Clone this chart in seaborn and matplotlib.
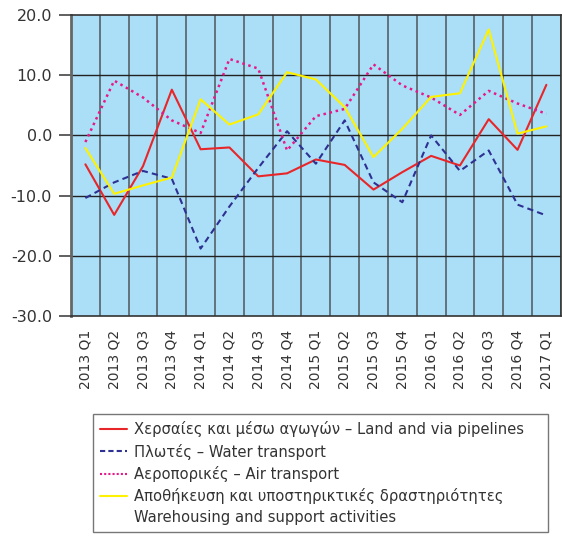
import pandas as pd
import numpy as np
import matplotlib.pyplot as plt
import seaborn as sns
from matplotlib.lines import Line2D

# quarters on the x axis
quarters = ['2013 Q1', '2013 Q2', '2013 Q3', '2013 Q4',
            '2014 Q1', '2014 Q2', '2014 Q3', '2014 Q4',
            '2015 Q1', '2015 Q2', '2015 Q3', '2015 Q4',
            '2016 Q1', '2016 Q2', '2016 Q3', '2016 Q4',
            '2017 Q1']

# values
land = [-4.8, -13.2, -5.1, 7.6, -2.3, -2.0, -6.8, -6.3,
        -4.0, -4.9, -9.0, -6.1, -3.4, -5.0, 2.7, -2.4, 8.4]
water = [-10.4, -7.8, -5.9, -7.2, -18.8, -11.8, -5.4, 0.7,
         -4.7, 2.5, -7.8, -11.1, 0.0, -5.9, -2.5, -11.5, -13.3]
air = [-1.1, 9.1, 6.3, 2.5, 0.4, 12.7, 11.1, -2.5,
       3.2, 4.4, 11.8, 8.3, 6.3, 3.4, 7.4, 5.3, 3.6]
warehousing = [-2.1, -9.7, -8.3, -7.0, 6.0, 1.8, 3.5, 10.5,
               9.3, 4.7, -3.6, 1.1, 6.4, 7.0, 17.6, 0.3, 1.5]

labels = ['Χερσαίες και μέσω αγωγών – Land and via pipelines',
          'Πλωτές – Water transport',
          'Αεροπορικές – Air transport',
          'Αποθήκευση και υποστηρικτικές δραστηριότητες']
extra_line = 'Warehousing and support activities'

df = pd.DataFrame({'quarter': quarters * 4,
                   'value': land + water + air + warehousing,
                   'series': np.repeat(labels, len(quarters))})

sns.set_style('white')
plt.rcParams['font.family'] = ['DejaVu Sans']
plt.rcParams['axes.unicode_minus'] = False
txt = '#333333'

fig = plt.figure(figsize=(5.62, 5.38), dpi=100)
ax = fig.add_axes([0.1263, 0.4126, 0.8715, 0.5595])
ax.set_facecolor('#abdff7')

colors = ['#e8262a', '#2e3192', '#e6198a', '#fff200']
dashes = ['', (3, 2), (1, 1.5), '']
widths = [1.5, 1.5, 1.8, 1.5]
for lab, c, d, w in zip(labels, colors, dashes, widths):
    sub = df[df['series'] == lab]
    sns.lineplot(data=sub, x='quarter', y='value', color=c, lw=w, ax=ax,
                 sort=False, legend=False)
    if d != '':
        ax.lines[-1].set_dashes(d)

n = len(quarters)
ax.set_xlim(-0.5, n - 0.5)
ax.set_ylim(-30, 20)
ax.set_yticks(np.arange(-30, 21, 10))
ax.set_yticklabels([f'{v:.1f}' for v in np.arange(-30, 21, 10)],
                   fontsize=11.5, color=txt)
ax.set_xticks(range(n))
ax.set_xticklabels(quarters, rotation=90, fontsize=10, color=txt)
ax.tick_params(axis='x', which='both', length=0, pad=10)
ax.tick_params(axis='y', which='major', length=8.6, width=1.2,
               color='#444444', direction='out', left=True, pad=5)
ax.grid(False)
for xv in np.arange(-0.5, n, 1):
    ax.axvline(xv, color='#3a3a3a', lw=1.3, alpha=0.7, zorder=1)
for yv in np.arange(-20, 20, 10):
    ax.axhline(yv, color='#222222', lw=1.0, zorder=1)
for s in ax.spines.values():
    s.set_color('#333333')
    s.set_linewidth(1.2)
ax.spines['left'].set_color('#666666')
ax.spines['left'].set_linewidth(2)
ax.set_xlabel('')
ax.set_ylabel('')

handles = [Line2D([0], [0], color=colors[0], lw=1.5),
           Line2D([0], [0], color=colors[1], lw=1.5, dashes=(2.5, 1.5)),
           Line2D([0], [0], color=colors[2], lw=1.5, dashes=(1, 1)),
           Line2D([0], [0], color=colors[3], lw=1.5),
           Line2D([0], [0], color='none', lw=0)]
leg = fig.legend(handles, labels + [extra_line], loc='upper left',
                 bbox_to_anchor=(93 / 562, 1 - 535 / 538, 455 / 562, 121 / 538),
                 mode='expand', fontsize=10.6,
                 frameon=True, fancybox=False, handlelength=1.8,
                 handletextpad=0.5, labelspacing=0.42, borderpad=0.5,
                 borderaxespad=0, labelcolor=txt)
leg.get_frame().set_edgecolor('#555555')
leg.get_frame().set_linewidth(1.0)

plt.savefig('out.png', dpi=100)
